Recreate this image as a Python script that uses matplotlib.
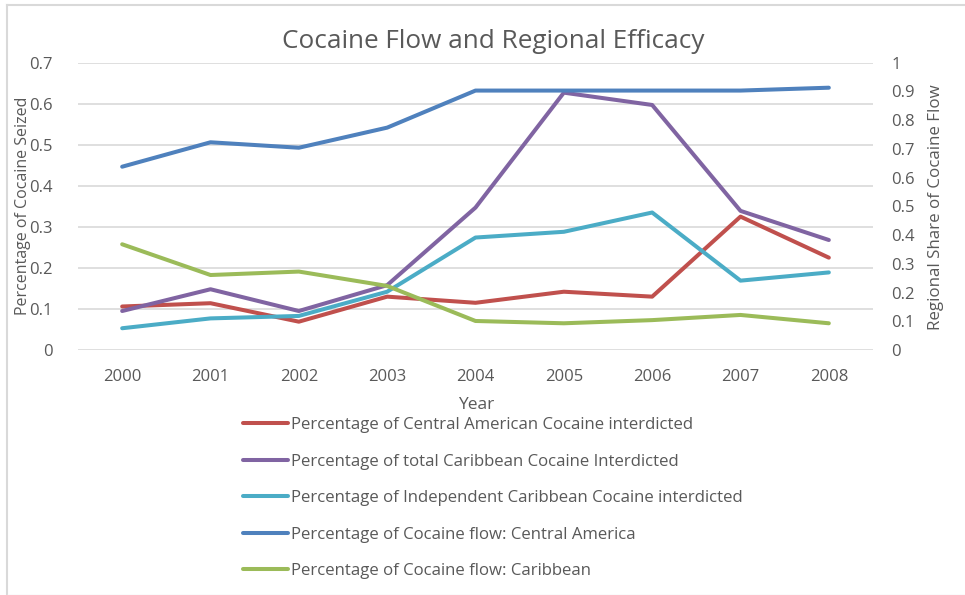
import matplotlib
matplotlib.use("Agg")
import matplotlib.pyplot as plt
from matplotlib.lines import Line2D

plt.rcParams['font.family'] = ['Open Sans', 'DejaVu Sans']

years = [2000, 2001, 2002, 2003, 2004, 2005, 2006, 2007, 2008]

# left axis: share of cocaine seized
central_interdicted = [0.106, 0.114, 0.069, 0.130, 0.115, 0.142, 0.130, 0.325, 0.225]
total_carib_interdicted = [0.095, 0.148, 0.095, 0.158, 0.347, 0.627, 0.597, 0.339, 0.268]
indep_carib_interdicted = [0.053, 0.077, 0.083, 0.142, 0.274, 0.288, 0.335, 0.169, 0.189]

# right axis: regional share of flow
flow_central = [0.638, 0.723, 0.704, 0.774, 0.903, 0.903, 0.903, 0.903, 0.913]
flow_carib = [0.368, 0.261, 0.273, 0.223, 0.101, 0.093, 0.104, 0.122, 0.093]

labels = ["Percentage of Central American Cocaine interdicted",
          "Percentage of total Caribbean Cocaine Interdicted",
          "Percentage of Independent Caribbean Cocaine interdicted",
          "Percentage of Cocaine flow: Central America",
          "Percentage of Cocaine flow: Caribbean"]
colors = ['#c0504d', '#8064a2', '#4bacc6', '#4f81bd', '#9bbb59']

txt = '#595959'
lw = 2.9
W, H = 965, 595

fig = plt.figure(figsize=(9.65, 5.95), dpi=100)
# chart frame (top, left, faint bottom)
fig.add_artist(Line2D([6.5 / W, 1], [1 - 4.5 / H, 1 - 4.5 / H], color='#d9d9d9', lw=1.5))
fig.add_artist(Line2D([6.5 / W, 6.5 / W], [0, 1 - 4.5 / H], color='#d9d9d9', lw=1.5))
fig.add_artist(Line2D([6.5 / W, 1], [0.5 / H, 0.5 / H], color='#eeeeee', lw=1))

ax = fig.add_axes([78 / W, 245 / H, 795 / W, 287.3 / H])
ax2 = ax.twinx()

lines = []
for vals, c in zip([central_interdicted, total_carib_interdicted, indep_carib_interdicted], colors[:3]):
    l, = ax.plot(years, vals, color=c, linewidth=lw, solid_capstyle='round')
    lines.append(l)
for vals, c in zip([flow_central, flow_carib], colors[3:]):
    l, = ax2.plot(years, vals, color=c, linewidth=lw, solid_capstyle='round')
    lines.append(l)

ax.set_xlim(1999.5, 2008.5)
ax.set_ylim(0, 0.7)
ax2.set_ylim(0, 1)
ax.set_yticks([0, 0.1, 0.2, 0.3, 0.4, 0.5, 0.6, 0.7])
ax.set_yticklabels(['0', '0.1', '0.2', '0.3', '0.4', '0.5', '0.6', '0.7'])
ax2.set_yticks([i / 10 for i in range(11)])
ax2.set_yticklabels(['0'] + [f'0.{i}' for i in range(1, 10)] + ['1'])
ax.set_xticks(years)
ax.grid(axis='y', color='#d9d9d9', linewidth=1.2)
ax.set_axisbelow(True)

for a in (ax, ax2):
    for s in a.spines.values():
        s.set_visible(False)
    a.tick_params(length=0, labelsize=12, colors=txt)
ax.tick_params(axis='y', pad=18)
ax.tick_params(axis='x', pad=14)
ax2.tick_params(axis='y', pad=13)

fig.text(23 / W, 1 - 206 / H, "Percentage of Cocaine Seized", rotation=90,
         ha='center', va='center', fontsize=11.5, color=txt)
fig.text(936 / W, 1 - 207 / H, "Regional Share of Cocaine Flow", rotation=90,
         ha='center', va='center', fontsize=12.2, color=txt)
fig.text(476 / W, 1 - 405 / H, "Year", ha='center', va='center', fontsize=12.5, color=txt)
fig.text(493 / W, 1 - 42 / H, "Cocaine Flow and Regional Efficacy", ha='center', va='center',
         fontsize=18.8, color=txt)

fig.legend(lines, labels, loc='upper left', bbox_to_anchor=(243 / W, 1 - 417 / H),
           frameon=False, fontsize=12.1, labelcolor=txt, handlelength=2.65, handletextpad=0.2,
           labelspacing=1.22, borderpad=0, borderaxespad=0)

fig.savefig("out.png", dpi=100)
